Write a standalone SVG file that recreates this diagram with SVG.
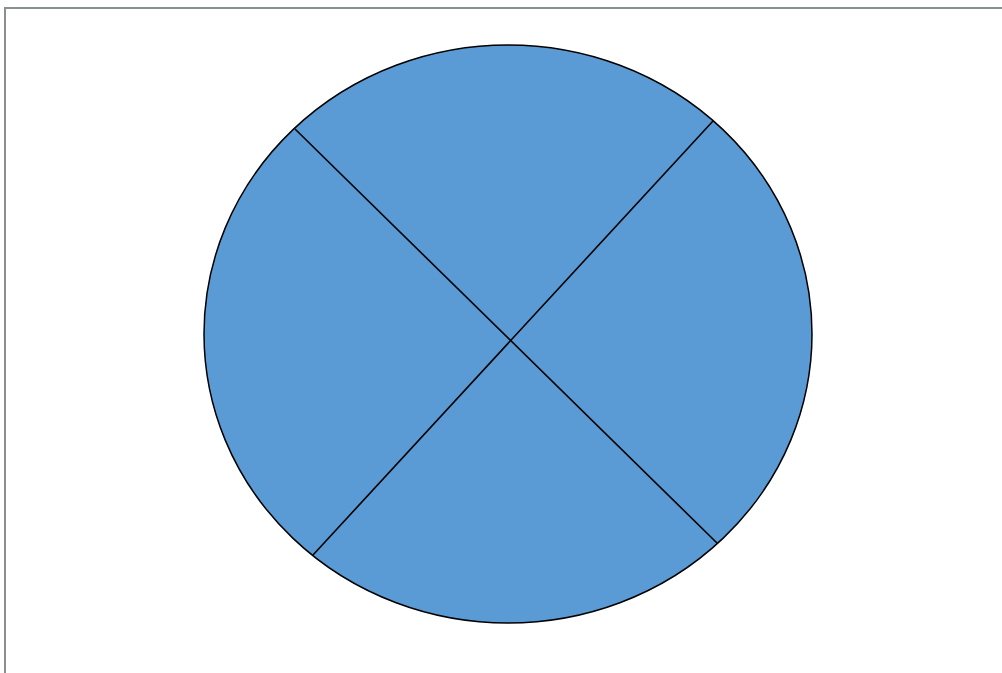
<svg xmlns="http://www.w3.org/2000/svg" width="1002" height="673" viewBox="0 0 1002 673">
<style>
.frame{fill:none;stroke:#8a8f8f;stroke-width:2}
.disc{fill:#5B9BD5;stroke:#000;stroke-width:1.5}
.div{stroke:#000;stroke-width:1.6;fill:none}
</style>
<rect width="1002" height="673" fill="#fff"/>
<path class="frame" d="M5,673 V8 H1002"/>
<g id="disc">
<ellipse class="disc" cx="508" cy="334" rx="304" ry="289"/>
</g>
<g id="connectors">
<line class="div" x1="295" y1="129" x2="717" y2="543"/>
<line class="div" x1="713" y1="121" x2="313" y2="555"/>
</g>
</svg>
